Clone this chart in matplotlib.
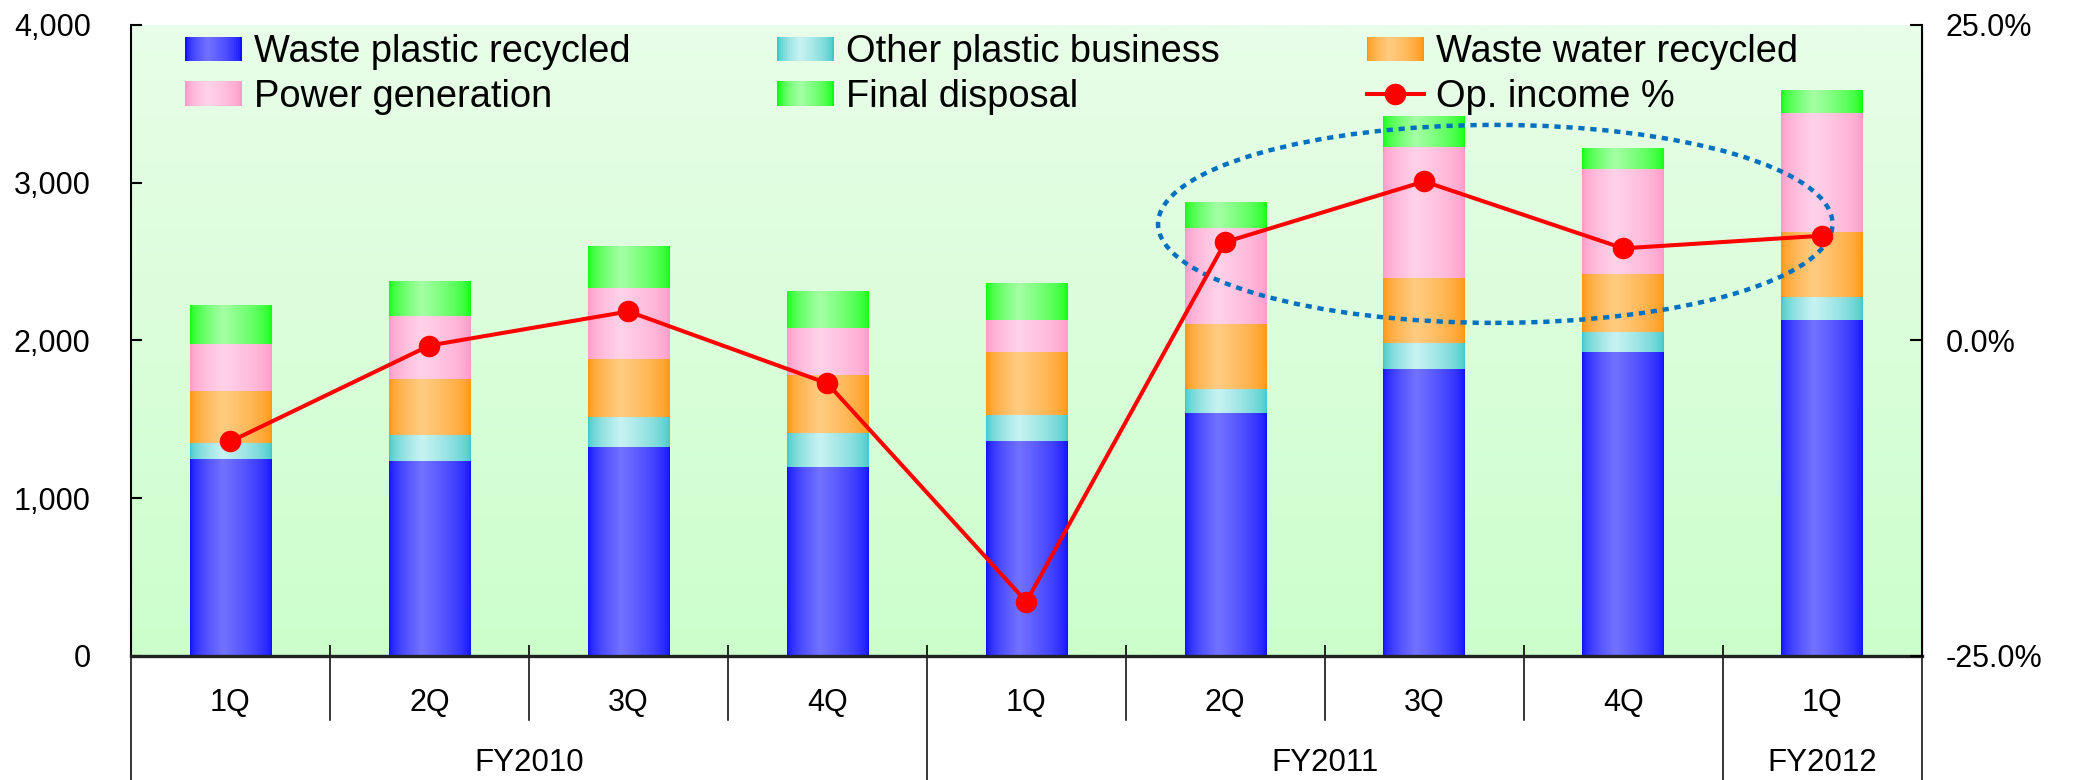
import numpy as np
import matplotlib
matplotlib.use("Agg")
import matplotlib.pyplot as plt
import matplotlib.transforms as mtransforms
from matplotlib import font_manager
from matplotlib.patches import Rectangle, Ellipse
from matplotlib.legend_handler import HandlerBase
from matplotlib.colors import to_rgb

plt.rcParams['font.family'] = ['Liberation Sans', 'DejaVu Sans']
plt.rcParams['axes.unicode_minus'] = False

# narrow face for the axis numbers, if it is there
installed = {f.name for f in font_manager.fontManager.ttflist}
if 'Liberation Sans Narrow' in installed:
    tick_family, tick_size = 'Liberation Sans Narrow', 27
else:
    tick_family, tick_size = 'Liberation Sans', 22

# data
quarters = ["1Q", "2Q", "3Q", "4Q", "1Q", "2Q", "3Q", "4Q", "1Q"]
years = ["FY2010", "FY2011", "FY2012"]
year_span = [4, 4, 1]

waste_plastic = [1249, 1236, 1325, 1198, 1363, 1540, 1819, 1927, 2130]
other_plastic = [101, 165, 190, 215, 165, 152, 165, 127, 143]
waste_water = [330, 355, 368, 368, 399, 413, 412, 368, 412]
power_gen = [298, 400, 450, 299, 203, 608, 831, 665, 760]
final_disposal = [247, 221, 261, 234, 234, 159, 196, 127, 145]
op_income = [-8.0, -0.4, 2.3, -3.4, -20.7, 7.8, 12.6, 7.3, 8.3]

series = [
    ("Waste plastic recycled", waste_plastic, "#1010ff", "#7272ff"),
    ("Other plastic business", other_plastic, "#40c8c8", "#c8f2f2"),
    ("Waste water recycled", waste_water, "#ff9510", "#ffcc82"),
    ("Power generation", power_gen, "#ff99c8", "#ffd2e8"),
    ("Final disposal", final_disposal, "#10ff10", "#a4ffa4"),
]


def grad_colors(edge, mid, n=100):
    t = np.linspace(0, 1, n)
    f = np.where(t < 0.4, t / 0.4, (1 - t) / 0.6)
    f = np.clip(f, 0, 1) ** 0.6
    e = np.array(to_rgb(edge))
    m = np.array(to_rgb(mid))
    return e + (m - e) * f[:, None]


class GradHandler(HandlerBase):
    def __init__(self, edge, mid):
        super().__init__()
        self.cols = grad_colors(edge, mid, 30)

    def create_artists(self, legend, orig_handle, xdescent, ydescent,
                       width, height, fontsize, trans):
        n = len(self.cols)
        out = []
        for i, c in enumerate(self.cols):
            r = Rectangle((-xdescent + i * width / n, -ydescent),
                          width / n * 1.05, height, facecolor=c,
                          edgecolor='none', transform=trans)
            out.append(r)
        return out


fig = plt.figure(figsize=(20.73, 7.80), dpi=100)
ax1 = fig.add_axes([0.0632, 0.159, 0.8638, 0.809])
ax2 = ax1.twinx()

x = np.arange(len(quarters))
width = 0.41

# background gradient of plot area
bg = np.linspace(np.array([232, 253, 232]) / 255, np.array([204, 255, 204]) / 255, 64)
ax1.imshow(bg[:, None, :], extent=(0, 1, 0, 1), transform=ax1.transAxes,
           aspect='auto', zorder=0, interpolation='bilinear')

bottom = np.zeros(len(x))
handles = {}
for name, vals, edge, mid in series:
    bars = ax1.bar(x, vals, width, bottom=bottom, color=mid, zorder=1, linewidth=0)
    img = grad_colors(edge, mid)[None, :, :]
    for rect in bars:
        x0, y0 = rect.get_xy()
        ax1.imshow(img, extent=(x0, x0 + rect.get_width(), y0, y0 + rect.get_height()),
                   aspect='auto', zorder=2, interpolation='bilinear')
    bottom += np.array(vals)
    handles[name] = (Rectangle((0, 0), 1, 1), GradHandler(edge, mid))

ax1.set_xlim(-0.5, len(x) - 0.5)
ax1.set_ylim(0, 4000)
ax1.set_yticks([0, 1000, 2000, 3000, 4000])
ax1.yaxis.set_major_formatter(matplotlib.ticker.StrMethodFormatter('{x:,.0f}'))
ax1.tick_params(axis='y', direction='in', length=8, width=1.5, labelsize=tick_size,
                pad=29, labelfontfamily=tick_family)

# circled highlight
ell = Ellipse((6.357, 2739), 3.39, 1255, fill=False, edgecolor='#0070c0',
              linewidth=3.2, linestyle=(0, (1.4, 1.3)), zorder=3)
ax1.add_patch(ell)

ax1.set_xticks([])
ax1.set_xticks(np.arange(0.5, len(x) - 1, 1), minor=True)
ax1.tick_params(axis='x', which='minor', direction='in', length=8, width=1.2)

ax1.spines['top'].set_visible(False)
ax1.spines['bottom'].set_linewidth(2.4)
ax1.spines['bottom'].set_color('#222222')
ax1.spines['left'].set_linewidth(1.5)

# category labels and separators under the axis
trans = mtransforms.blended_transform_factory(ax1.transData, ax1.transAxes)
edges = np.concatenate([[0], np.cumsum(year_span)]) - 0.5
for b in np.arange(0.5, len(x) - 1, 1):
    if b in edges:
        continue
    ax1.plot([b, b], [0, -0.1014], transform=trans, color='black', lw=1.1, clip_on=False)
for b in edges:
    ax1.plot([b, b], [0, -0.25], transform=trans, color='black', lw=1.1, clip_on=False)
for xi, q in zip(x, quarters):
    ax1.text(xi, -0.0745, q, transform=trans, ha='center', va='center', fontsize=22)
for i, yname in enumerate(years):
    c = (edges[i] + edges[i + 1]) / 2
    ax1.text(c, -0.1696, yname, transform=trans, ha='center', va='center', fontsize=22.5)

# operating income line
line, = ax2.plot(x, op_income, color='#ff0000', lw=2.9, marker='o', ms=14.5, zorder=5)
ax2.set_ylim(-25, 25)
ax2.set_yticks([-25, 0, 25])
ax2.yaxis.set_major_formatter(matplotlib.ticker.StrMethodFormatter('{x:.1f}%'))
ax2.tick_params(axis='y', direction='in', length=9, width=1.5, labelsize=tick_size,
                pad=17, labelfontfamily=tick_family)
ax2.spines['top'].set_visible(False)
ax2.spines['left'].set_visible(False)
ax2.spines['bottom'].set_visible(False)
ax2.spines['right'].set_linewidth(1.5)

# legend, column-major order for ncol=3
order = ["Waste plastic recycled", "Power generation", "Other plastic business",
         "Final disposal", "Waste water recycled"]
leg_handles, leg_labels, hmap = [], [], {}
for nm in order:
    h, hd = handles[nm]
    leg_handles.append(h)
    leg_labels.append(nm)
    hmap[h] = hd
leg_handles.append(line)
leg_labels.append("Op. income %")
ax2.legend(leg_handles, leg_labels, handler_map=hmap, ncol=3, loc='upper left',
           bbox_to_anchor=(0.030, 0.985), frameon=False, fontsize=27.4,
           handlelength=1.5, handleheight=0.62, handletextpad=0.32,
           columnspacing=3.85, labelspacing=0.22, borderpad=0, borderaxespad=0)

fig.savefig('out.png', dpi=100)
